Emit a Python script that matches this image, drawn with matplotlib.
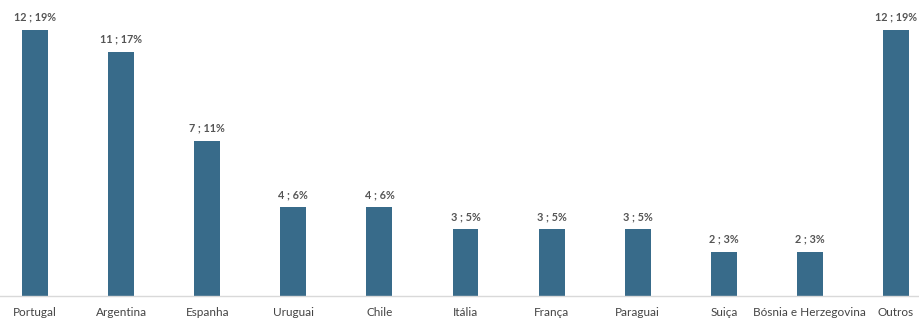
import matplotlib
matplotlib.use("Agg")
import matplotlib.pyplot as plt

paises = ["Portugal", "Argentina", "Espanha", "Uruguai", "Chile", "Itália",
          "França", "Paraguai", "Suiça", "Bósnia e Herzegovina", "Outros"]
valores = [12, 11, 7, 4, 4, 3, 3, 3, 2, 2, 12]
percentuais = [19, 17, 11, 6, 6, 5, 5, 5, 3, 3, 19]

plt.rcParams['font.family'] = ['Lato', 'DejaVu Sans']

fig = plt.figure(figsize=(9.19, 3.21), dpi=100)
ax = fig.add_axes([0, 25 / 321, 1, 296 / 321])

x = list(range(len(paises)))
ax.bar(x, valores, width=0.3, color="#386b8a")

for xi, v, p in zip(x, valores, percentuais):
    ax.text(xi, v + 0.33, f"{v} ; {p}%", ha="center", va="bottom",
            fontsize=7.8, color="#555555", fontweight="bold")

ax.set_xlim(-35 / 86.1, 10 + 23 / 86.1)
ax.set_ylim(0, 296 / 22.17)
ax.set_xticks(x)
ax.set_xticklabels(paises, fontsize=8.5, color="#444444")
ax.tick_params(axis="x", length=0, pad=8)
ax.set_yticks([])
for s in ["top", "left", "right"]:
    ax.spines[s].set_visible(False)
ax.spines["bottom"].set_color("#d9d9d9")
ax.spines["bottom"].set_linewidth(1)

fig.savefig("out.png", dpi=100)
